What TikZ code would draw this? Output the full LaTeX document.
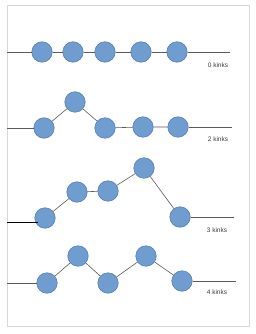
\documentclass[tikz,border=0pt]{standalone}
\usepackage{fontspec}
\setmainfont{Liberation Sans}
\definecolor{ballfill}{RGB}{112,157,208}
\definecolor{balledge}{RGB}{78,118,178}
\definecolor{framegray}{RGB}{216,216,216}
\definecolor{linegray}{RGB}{90,90,90}
\definecolor{labelgray}{RGB}{60,60,60}
\begin{document}
\begin{tikzpicture}[x=1pt,y=-1pt,
  ball/.style={circle,fill=ballfill,draw=balledge,line width=0.5pt,minimum size=20.5pt,inner sep=0pt},
  link/.style={draw=linegray,line width=0.6pt},
  lead/.style={draw=linegray,line width=0.7pt},
  kinklabel/.style={font=\fontsize{6.5}{7}\selectfont,text=labelgray,anchor=center}]
\useasboundingbox (0,0) rectangle (256,334);
\fill[white] (0,0) rectangle (256,334);
\draw[framegray,line width=1pt] (7,6) rectangle (249,326);
% row 1
\coordinate (l1) at (7,52);
\coordinate (r1) at (230,52);
\node[ball] (a1) at (42,52) {};
\node[ball] (a2) at (73,52) {};
\node[ball] (a3) at (105,52) {};
\node[ball] (a4) at (141,52) {};
\node[ball] (a5) at (177,52) {};
\path[lead] (l1) -- (a1) (a5) -- (r1);
\path[link] (a1) -- (a2) (a2) -- (a3) (a3) -- (a4) (a4) -- (a5);
\node[kinklabel] (t1) at (218,65) {0 kinks};
% row 2
\coordinate (l2) at (7,128);
\coordinate (r2) at (232,127);
\node[ball] (b1) at (44,128) {};
\node[ball] (b2) at (75,102) {};
\node[ball] (b3) at (105,128) {};
\node[ball] (b4) at (143,127) {};
\node[ball] (b5) at (178,127) {};
\path[lead] (l2) -- (b1) (b5) -- (r2);
\path[link] (b1) -- (b2) (b2) -- (b3) (b3) -- (b4) (b4) -- (b5);
\node[kinklabel] (t2) at (218,139) {2 kinks};
% row 3
\coordinate (l3) at (7,222);
\coordinate (r3) at (234,217);
\node[ball] (c1) at (45,218) {};
\node[ball] (c2) at (77,192) {};
\node[ball] (c3) at (108,191) {};
\node[ball] (c4) at (144,168) {};
\node[ball] (c5) at (180,217) {};
\draw[black,line width=0.7pt] (l3) -- (c1.south west |- l3);
\path[lead] (c5) -- (r3);
\path[link] (c1) -- (c2) (c2) -- (c3) (c3) -- (c4) (c4) -- (c5);
\node[kinklabel] (t3) at (217,230) {3 kinks};
% row 4
\coordinate (l4) at (7,283);
\coordinate (r4) at (236,281);
\node[ball] (d1) at (47,283) {};
\node[ball] (d2) at (78,256) {};
\node[ball] (d3) at (108,283) {};
\node[ball] (d4) at (146,256) {};
\node[ball] (d5) at (182,281) {};
\path[lead] (l4) -- (d1) (d5) -- (r4);
\path[link] (d1) -- (d2) (d2) -- (d3) (d3) -- (d4) (d4) -- (d5);
\node[kinklabel] (t4) at (217,292) {4 kinks};
\end{tikzpicture}
\end{document}
